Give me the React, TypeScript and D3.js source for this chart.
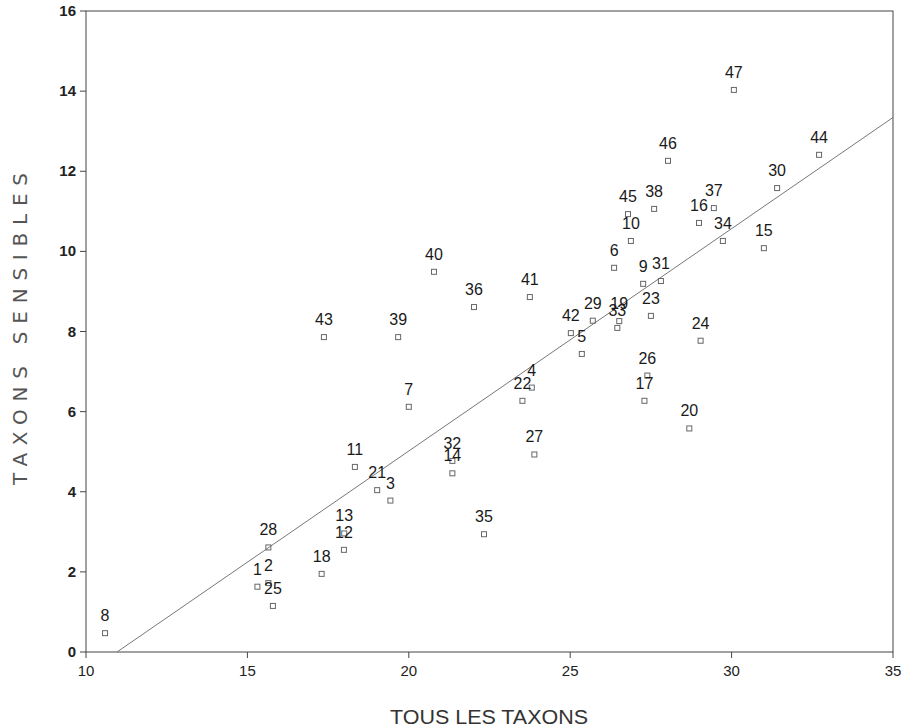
import React from "react";
import * as d3 from "d3";

const ids = [8, 47, 44, 46, 30, 37, 38, 45, 16, 34, 10, 15, 6, 40, 9, 31, 41, 36, 23, 29, 19, 33, 42, 5, 43, 39, 24, 26, 4, 22, 17, 7, 20, 27, 11, 32, 14, 21, 3, 13, 12, 28, 18, 1, 2, 25, 35];
const tousTaxons = [10.59, 30.07, 32.71, 28.03, 31.41, 29.45, 27.6, 26.79, 28.99, 29.73, 26.88, 31.0, 26.36, 20.78, 27.26, 27.81, 23.75, 22.02, 27.5, 25.7, 26.52, 26.46, 25.02, 25.36, 17.37, 19.67, 29.04, 27.39, 23.81, 23.52, 27.3, 20.0, 28.69, 23.89, 18.33, 21.35, 21.35, 19.02, 19.43, 18.0, 17.99, 15.65, 17.3, 15.31, 15.65, 15.79, 22.33];
const taxonsSensibles = [0.47, 14.03, 12.41, 12.26, 11.58, 11.08, 11.06, 10.93, 10.71, 10.26, 10.26, 10.08, 9.59, 9.49, 9.19, 9.26, 8.86, 8.61, 8.39, 8.27, 8.26, 8.09, 7.96, 7.44, 7.86, 7.86, 7.77, 6.9, 6.6, 6.27, 6.27, 6.12, 5.58, 4.93, 4.62, 4.77, 4.46, 4.04, 3.78, 2.96, 2.55, 2.61, 1.95, 1.63, 1.72, 1.15, 2.94];

const xTicks = [10, 15, 20, 25, 30, 35];
const yTicks = [0, 2, 4, 6, 8, 10, 12, 14, 16];
const regressionSlope = 0.555;
const regressionZeroX = 10.96;

export default function App() {
  const W = 913, H = 728;
  const left = 86, right = 893, top = 11, bottom = 652;
  const x = d3.scaleLinear().domain([10, 35]).range([left, right]);
  const y = d3.scaleLinear().domain([0, 16]).range([bottom, top]);
  const regX = [regressionZeroX, 35];
  const line = d3.line<number>().x((d) => x(d)).y((d) => y(regressionSlope * (d - regressionZeroX)));
  const sans = "'Liberation Sans', Arial, sans-serif";
  const thin = "'DejaVu Sans', sans-serif";
  return (
    <svg width={W} height={H} style={{ position: "absolute", left: 0, top: 0, background: "#fff" }}>
      <rect x={left} y={top} width={right - left} height={bottom - top} fill="none" stroke="#444" strokeWidth={1} />
      <path d={line(regX) || ""} fill="none" stroke="#777" strokeWidth={1} />
      {yTicks.map((t) => (
        <g key={"y" + t}>
          <line x1={left - 6} x2={left} y1={y(t)} y2={y(t)} stroke="#444" />
          <text x={left - 10} y={y(t) + 5} textAnchor="end" fontFamily={sans} fontSize={15} fontWeight="bold" fill="#222">{t}</text>
        </g>
      ))}
      {xTicks.map((t) => (
        <g key={"x" + t}>
          <line x1={x(t)} x2={x(t)} y1={bottom} y2={bottom + 6} stroke="#444" />
          <text x={x(t)} y={bottom + 24} textAnchor="middle" fontFamily={sans} fontSize={15} fill="#222">{t}</text>
        </g>
      ))}
      {ids.map((id, i) => {
        const px = x(tousTaxons[i]);
        const py = y(taxonsSensibles[i]);
        return (
          <g key={"p" + id + "_" + i}>
            <rect x={px - 2.5} y={py - 2.5} width={5} height={5} fill="none" stroke="#666" strokeWidth={1} />
            <text x={px} y={py - 12} textAnchor="middle" fontFamily={sans} fontSize={16} fill="#1a1a1a">{id}</text>
          </g>
        );
      })}
      <text x={489} y={724} textAnchor="middle" fontFamily={sans} fontSize={20} textLength={198} lengthAdjust="spacingAndGlyphs" fill="#333">TOUS LES TAXONS</text>
      <text transform={`translate(27, 329) rotate(-90)`} textAnchor="middle" fontFamily={thin} fontSize={20} textLength={312} lengthAdjust="spacing" fill="#555">TAXONS SENSIBLES</text>
    </svg>
  );
}
